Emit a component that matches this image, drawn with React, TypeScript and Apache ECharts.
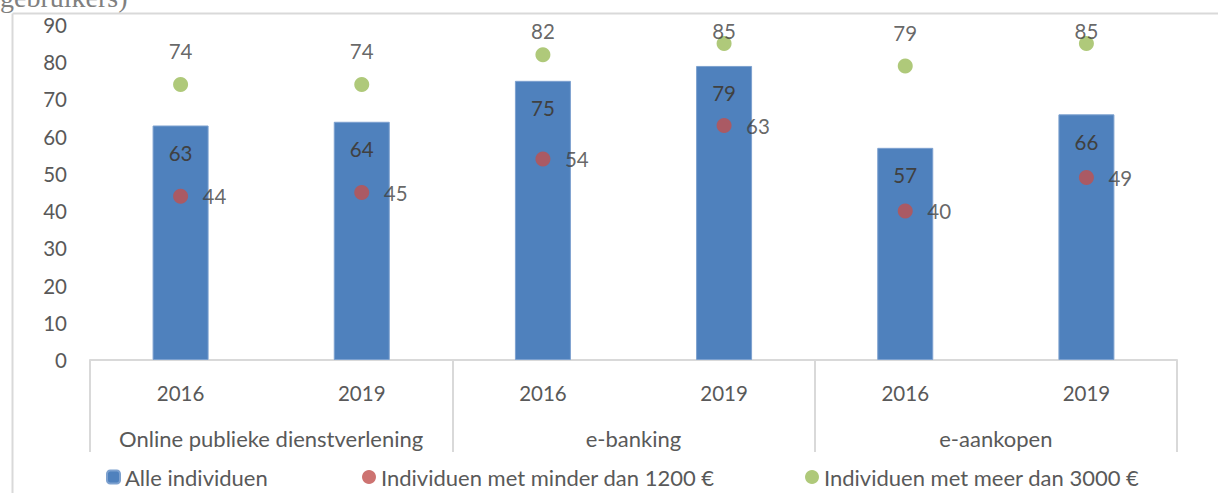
import React, { useEffect, useRef } from "react";
import * as echarts from "echarts";

const years = ["2016", "2019", "2016", "2019", "2016", "2019"];
const groups = ["Online publieke dienstverlening", "e-banking", "e-aankopen"];
const seriesNames = [
  "Alle individuen",
  "Individuen met minder dan 1200 €",
  "Individuen met meer dan 3000 €",
];
const allValues = [63, 64, 75, 79, 57, 66];
const lowIncome = [44, 45, 54, 63, 40, 49];
const highIncome = [74, 74, 82, 85, 79, 85];
const yTicks = { min: 0, max: 90, interval: 10 };

const FONT = "Lato";
const FS_NUM = 20.5;
const FS_TXT = 22;
const GRID = { left: 90, right: 41, top: 25, bottom: 133 };
const H = 493;

export default function App() {
  const ref = useRef<HTMLDivElement>(null);
  useEffect(() => {
    document.body.style.margin = "0";
    if (!ref.current) return;
    const chart = echarts.init(ref.current, undefined, { renderer: "svg" });
    const plotH = H - GRID.top - GRID.bottom;
    const pxPer = plotH / (yTicks.max - yTicks.min);
    const greenData = highIncome.map((v) => {
      const dotY = GRID.top + (yTicks.max - v) * pxPer;
      const center = Math.max(dotY - 33, 31.5);
      return { value: v, label: { distance: dotY - center - FS_NUM / 2 - 7.5 } };
    });
    const labelStyle = { color: "#404040", fontFamily: FONT, fontSize: FS_NUM };
    chart.setOption({
      animation: false,
      backgroundColor: "#fff",
      textStyle: { fontFamily: FONT },
      graphic: [
        {
          type: "text",
          left: 0,
          top: -17,
          style: {
            text: "gebruikers)",
            font: "28px 'Liberation Serif', serif",
            fill: "#808080",
          },
        },
        {
          type: "line",
          shape: { x1: 0, y1: 0, x2: 0, y2: H },
          top: 11,
          left: 10,
          style: { stroke: "#D9D9D9", lineWidth: 2 },
        },
        {
          type: "line",
          shape: { x1: 0, y1: 0, x2: 1218, y2: 0 },
          top: 11,
          left: 10,
          style: { stroke: "#D9D9D9", lineWidth: 2 },
        },
      ],
      legend: seriesNames.map((n, i) => ({
        data: [n],
        left: [106, 362, 805][i],
        top: 466,
        padding: 0,
        itemWidth: i === 0 ? 13 : 14,
        itemHeight: i === 0 ? 13 : 14,
        itemGap: 0,
        selectedMode: false,
        textStyle: { color: "#595959", fontFamily: FONT, fontSize: FS_TXT },
      })),
      grid: [{ ...GRID }, { ...GRID }],
      xAxis: [
        {
          type: "category",
          gridIndex: 0,
          data: years,
          position: "bottom",
          axisLine: { lineStyle: { color: "#D9D9D9", width: 2 } },
          axisTick: { show: false },
          axisLabel: { color: "#595959", fontFamily: FONT, fontSize: FS_NUM, margin: 22 },
        },
        {
          type: "category",
          gridIndex: 1,
          data: groups,
          position: "bottom",
          axisLine: { show: false },
          axisTick: { show: true, length: 92, interval: 0, lineStyle: { color: "#D9D9D9", width: 2 } },
          axisLabel: { color: "#595959", fontFamily: FONT, fontSize: FS_TXT, margin: 67, interval: 0 },
        },
      ],
      yAxis: [
        {
          type: "value",
          gridIndex: 0,
          ...yTicks,
          axisLine: { show: false },
          axisTick: { show: false },
          splitLine: { show: false },
          axisLabel: { color: "#595959", fontFamily: FONT, fontSize: FS_NUM, margin: 23 },
        },
        { type: "value", gridIndex: 1, ...yTicks, show: false },
      ],
      series: [
        {
          name: seriesNames[0],
          type: "bar",
          xAxisIndex: 0,
          yAxisIndex: 0,
          data: allValues,
          barWidth: 56,
          itemStyle: { color: "#4F81BD", borderColor: "#7DA1CF", borderWidth: 1 },
          label: { show: true, position: "insideTop", distance: 17, ...labelStyle },
        },
        {
          name: seriesNames[1],
          type: "scatter",
          xAxisIndex: 0,
          yAxisIndex: 0,
          data: lowIncome,
          symbol: "circle",
          symbolSize: 15,
          itemStyle: { color: "#C0504D" },
          label: { show: true, position: "right", distance: 14.5, ...labelStyle },
        },
        {
          name: seriesNames[2],
          type: "scatter",
          xAxisIndex: 0,
          yAxisIndex: 0,
          data: greenData,
          symbol: "circle",
          symbolSize: 15,
          itemStyle: { color: "#9BBB59" },
          label: { show: true, position: "top", ...labelStyle },
        },
      ],
    });
    return () => chart.dispose();
  }, []);
  return <div ref={ref} style={{ width: 1218, height: 493 }} />;
}
